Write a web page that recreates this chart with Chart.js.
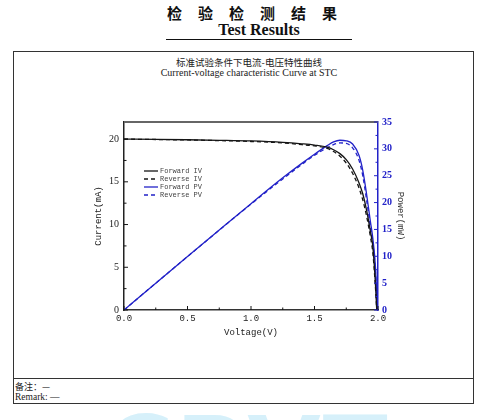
<!DOCTYPE html>
<html>
<head>
<meta charset="utf-8">
<script src="https://cdn.jsdelivr.net/npm/chart.js@4"></script>
<style>
  body { margin: 0; width: 493px; height: 420px; background: #fff; position: relative; overflow: hidden; font-family: "Liberation Serif", serif; }
  .abs { position: absolute; }
  #titleCn { left: 0; width: 520px; top: 2px; text-align: center; font-family: "Noto Sans CJK SC"; font-weight: 700; font-size: 15px; letter-spacing: 16px; color: #111; }
  #titleEn { left: 0; width: 518px; top: 21px; text-align: center; font-weight: 700; font-size: 16px; color: #111; }
  #rule { left: 166px; top: 39px; width: 186px; height: 0; border-top: 1.5px solid #111; }
  #box { left: 13px; top: 51px; width: 459px; height: 351px; border: 1.5px solid #333; }
  #divider { left: 13px; top: 378px; width: 461px; height: 0; border-top: 1.5px solid #333; }
  #sub1 { left: 14px; width: 470px; top: 55px; text-align: center; font-family: "Noto Sans CJK SC"; font-size: 9.5px; color: #222; }
  #sub2 { left: 14px; width: 470px; top: 67px; text-align: center; font-size: 10px; color: #222; }
  #remark1 { left: 15px; top: 380px; font-family: "Noto Sans CJK SC"; font-size: 9px; color: #222; }
  #remark2 { left: 15px; top: 392px; font-size: 9.5px; color: #222; }
  #wm { left: 104px; top: 404px; font-family: "DejaVu Sans"; font-weight: 700; font-size: 95px; letter-spacing: 2px; color: #d6f0fa; line-height: 1; z-index: -1; }
  #wrap { left: 14px; top: 80px; width: 460px; height: 295px; }
</style>
</head>
<body>
<div class="abs" id="wm">CPVT</div>
<div class="abs" id="titleCn">检验检测结果</div>
<div class="abs" id="titleEn">Test Results</div>
<div class="abs" id="rule"></div>
<div class="abs" id="box"></div>
<div class="abs" id="divider"></div>
<div class="abs" id="sub1">标准试验条件下电流-电压特性曲线</div>
<div class="abs" id="sub2">Current-voltage characteristic Curve at STC</div>
<div class="abs" id="remark1">备注：—</div>
<div class="abs" id="remark2">Remark: —</div>
<div class="abs" id="wrap"><canvas id="ivChart" width="460" height="295"></canvas></div>
<script>
// valores
const voltsIV = [0, 0.25, 0.5, 0.75, 1.0, 1.25, 1.4, 1.5, 1.6, 1.65, 1.7, 1.75, 1.8, 1.85, 1.88, 1.91, 1.94, 1.96, 1.98, 1.99];
const currentFwd = [20.0, 19.97, 19.92, 19.86, 19.78, 19.62, 19.45, 19.3, 19.05, 18.75, 18.3, 17.6, 16.5, 14.9, 13.6, 11.7, 9.2, 7.3, 3.0, 0];
const currentRev = [20.0, 19.95, 19.9, 19.82, 19.72, 19.55, 19.35, 19.2, 18.9, 18.55, 18.0, 17.2, 16.0, 14.3, 12.9, 11.0, 8.6, 6.6, 2.6, 0];

const voltsPV = [0, 0.25, 0.5, 0.75, 1.0, 1.25, 1.4, 1.5, 1.6, 1.65, 1.7, 1.75, 1.8, 1.85, 1.88, 1.91, 1.94, 1.96, 1.98, 1.995];
const powerFwd = [0, 5.0, 9.96, 14.9, 19.8, 24.6, 27.3, 29.0, 30.6, 31.3, 31.6, 31.5, 30.9, 28.8, 26.0, 21.6, 16.5, 13.2, 8.0, 0];
const powerRev = [0, 4.99, 9.95, 14.87, 19.72, 24.4, 27.1, 28.8, 30.2, 30.8, 31.1, 31.0, 30.2, 27.9, 25.0, 20.5, 15.5, 12.3, 7.2, 0];

const seriesNames = ['Forward IV', 'Reverse IV', 'Forward PV', 'Reverse PV'];
const xTicks = [0, 0.5, 1.0, 1.5, 2.0];

const NEGRO = '#151515';
const AZUL = '#2222c8';

function puntos(xs, ys) {
    return xs.map((x, i) => ({ x: x, y: ys[i] }));
}

// ticks hacia adentro + linea superior del marco
const ticksAdentro = {
    id: 'ticksAdentro',
    afterDatasetsDraw(chart) {
        const { ctx, chartArea: a, scales } = chart;
        ctx.save();
        ctx.strokeStyle = '#666';
        ctx.lineWidth = 2;
        ctx.beginPath();
        ctx.moveTo(a.left, a.top);
        ctx.lineTo(a.right, a.top);
        ctx.stroke();

        const marcas = (scale, color, dibujar) => {
            const px = scale.ticks.map(t => scale.getPixelForValue(t.value));
            ctx.strokeStyle = color;
            ctx.lineWidth = 1;
            px.forEach((p, i) => {
                dibujar(p, 4);
                if (i < px.length - 1) dibujar((p + px[i + 1]) / 2, 2.5);
            });
        };
        marcas(scales.x, NEGRO, (p, l) => {
            ctx.beginPath(); ctx.moveTo(p, a.bottom); ctx.lineTo(p, a.bottom - l); ctx.stroke();
        });
        marcas(scales.y, NEGRO, (p, l) => {
            ctx.beginPath(); ctx.moveTo(a.left, p); ctx.lineTo(a.left + l, p); ctx.stroke();
        });
        marcas(scales.y1, AZUL, (p, l) => {
            ctx.beginPath(); ctx.moveTo(a.right, p); ctx.lineTo(a.right - l, p); ctx.stroke();
        });
        ctx.restore();
    }
};

// leyenda dentro del area del grafico
const leyendaInterna = {
    id: 'leyendaInterna',
    afterDraw(chart) {
        const { ctx, chartArea: a } = chart;
        const x0 = a.left + 20;
        let y = a.top + 49;
        ctx.save();
        ctx.font = '7px "Liberation Mono", monospace';
        ctx.textBaseline = 'middle';
        chart.data.datasets.forEach(ds => {
            ctx.strokeStyle = ds.borderColor;
            ctx.lineWidth = 1.3;
            ctx.setLineDash(ds.borderDash || []);
            ctx.beginPath();
            ctx.moveTo(x0, y);
            ctx.lineTo(x0 + 14, y);
            ctx.stroke();
            ctx.setLineDash([]);
            ctx.fillStyle = '#444';
            ctx.fillText(ds.label, x0 + 16, y + 0.5);
            y += 8;
        });
        ctx.restore();
    }
};

const ctx = document.getElementById('ivChart').getContext('2d');

new Chart(ctx, {
    type: 'line',
    data: {
        datasets: [
            { label: seriesNames[0], data: puntos(voltsIV, currentFwd), yAxisID: 'y', borderColor: NEGRO, borderWidth: 1.3 },
            { label: seriesNames[1], data: puntos(voltsIV, currentRev), yAxisID: 'y', borderColor: NEGRO, borderWidth: 1.3, borderDash: [4, 3] },
            { label: seriesNames[2], data: puntos(voltsPV, powerFwd), yAxisID: 'y1', borderColor: AZUL, borderWidth: 1.3 },
            { label: seriesNames[3], data: puntos(voltsPV, powerRev), yAxisID: 'y1', borderColor: AZUL, borderWidth: 1.3, borderDash: [4, 3] }
        ]
    },
    options: {
        responsive: false,
        animation: false,
        elements: {
            point: { radius: 0 },
            line: { cubicInterpolationMode: 'monotone' }
        },
        layout: { padding: { left: 75, right: 64, top: 42, bottom: 33 } },
        plugins: {
            legend: { display: false },
            tooltip: { enabled: false }
        },
        scales: {
            x: {
                type: 'linear',
                min: 0,
                max: 2,
                afterBuildTicks: scale => { scale.ticks = xTicks.map(v => ({ value: v })); },
                afterFit: scale => { scale.height = 32; },
                grid: { drawOnChartArea: false, drawTicks: false },
                border: { display: true, color: '#333', width: 1.5 },
                ticks: {
                    color: '#222',
                    padding: 3,
                    font: { family: 'Liberation Mono', size: 9 },
                    callback: v => Number(v).toFixed(1)
                },
                title: {
                    display: true,
                    text: 'Voltage(V)',
                    color: '#222',
                    font: { family: 'Liberation Mono', size: 9 },
                    padding: { top: 2, bottom: 4 }
                }
            },
            y: {
                position: 'left',
                min: 0,
                max: 22,
                afterFit: scale => { scale.width = 35; },
                grid: { drawOnChartArea: false, drawTicks: false },
                border: { display: true, color: '#222', width: 1.5 },
                ticks: {
                    stepSize: 5,
                    includeBounds: false,
                    color: '#222',
                    padding: 5,
                    font: { family: 'Liberation Serif', size: 10 }
                },
                title: {
                    display: true,
                    text: 'Current(mA)',
                    color: '#222',
                    font: { family: 'Liberation Mono', size: 9 },
                    padding: 4
                }
            },
            y1: {
                position: 'right',
                min: 0,
                max: 35,
                afterFit: scale => { scale.width = 32; },
                grid: { drawOnChartArea: false, drawTicks: false },
                border: { display: true, color: AZUL, width: 1.5 },
                ticks: {
                    stepSize: 5,
                    color: AZUL,
                    padding: 4,
                    font: { family: 'Liberation Serif', size: 10, weight: 'bold' }
                },
                title: {
                    display: true,
                    text: 'Power(mW)',
                    color: '#333',
                    font: { family: 'Liberation Mono', size: 9 },
                    padding: 4
                }
            }
        }
    },
    plugins: [ticksAdentro, leyendaInterna]
});
</script>
</body>
</html>
